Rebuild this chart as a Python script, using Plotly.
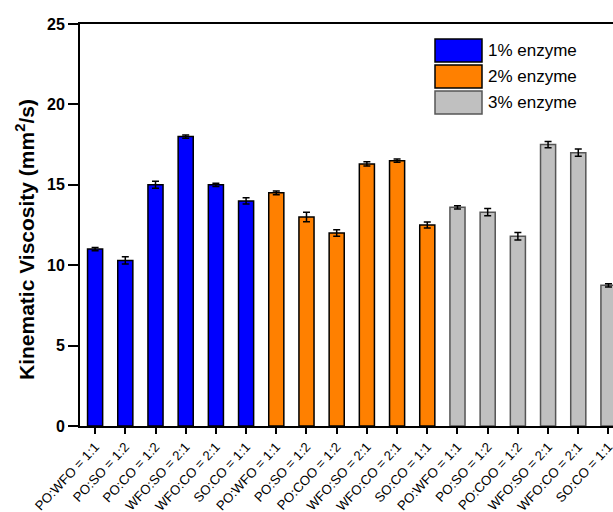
import plotly.graph_objects as go

series_names = ["1% enzyme", "2% enzyme", "3% enzyme"]
labels_1 = ["PO:WFO = 1:1", "PO:SO = 1:2", "PO:CO = 1:2", "WFO:SO = 2:1", "WFO:CO = 2:1", "SO:CO = 1:1"]
labels_2 = ["PO:WFO = 1:1", "PO:SO = 1:2", "PO:COO = 1:2", "WFO:SO = 2:1", "WFO:CO = 2:1", "SO:CO = 1:1"]
labels_3 = ["PO:WFO = 1:1", "PO:SO = 1:2", "PO:COO = 1:2", "WFO:SO = 2:1", "WFO:CO = 2:1", "SO:CO = 1:1"]

values_1 = [11.0, 10.3, 15.0, 18.0, 15.0, 14.0]
values_2 = [14.5, 13.0, 12.0, 16.3, 16.5, 12.5]
values_3 = [13.6, 13.3, 11.8, 17.5, 17.0, 8.75]

errors_1 = [0.1, 0.22, 0.22, 0.1, 0.1, 0.2]
errors_2 = [0.12, 0.3, 0.2, 0.13, 0.1, 0.19]
errors_3 = [0.1, 0.23, 0.23, 0.2, 0.23, 0.1]

y_ticks = [0, 5, 10, 15, 20, 25]
y_title = "<b>Kinematic Viscosity (mm<sup>2</sup>/s)</b>"

fill_colors = ["#0000FF", "#FF8000", "#C0C0C0"]
line_colors = ["#000000", "#000000", "#555555"]

groups = [(labels_1, values_1, errors_1), (labels_2, values_2, errors_2), (labels_3, values_3, errors_3)]

fig = go.Figure()
all_labels = []
pos = 0
for gi, (labs, vals, errs) in enumerate(groups):
    xs = list(range(pos, pos + len(vals)))
    pos += len(vals)
    all_labels += labs
    fig.add_trace(go.Bar(
        x=xs, y=vals, name=series_names[gi], width=0.5,
        marker=dict(color=fill_colors[gi], line=dict(color=line_colors[gi], width=1.5)),
        error_y=dict(type="data", array=errs, visible=True, color="#000000", thickness=1.5, width=3.5),
        showlegend=False,
    ))

W, H = 613, 512
ML, MR, MT, MB = 80, 0, 24, 86
pw, ph = W - ML - MR, H - MT - MB

def px_x(x):
    return (x - ML) / pw

def px_y(y):
    return 1 - (y - MT) / ph

shapes = []
annotations = []
for i, name in enumerate(series_names):
    top = 39 + i * 26
    shapes.append(dict(type="rect", xref="paper", yref="paper",
                       x0=px_x(435), x1=px_x(482), y0=px_y(top + 23), y1=px_y(top),
                       fillcolor=fill_colors[i], line=dict(color=line_colors[i], width=1.5)))
    annotations.append(dict(xref="paper", yref="paper", x=px_x(486), y=px_y(top + 11.5),
                            text=name, showarrow=False, xanchor="left", yanchor="middle",
                            font=dict(family="Liberation Sans, Arial", size=17, color="#000")))

annotations.append(dict(xref="paper", yref="paper", x=px_x(25), y=px_y(240), text=y_title,
                        textangle=-90, showarrow=False, xanchor="center", yanchor="middle",
                        font=dict(family="Liberation Sans, Arial", size=21, color="#000")))

fig.update_layout(
    width=W, height=H,
    margin=dict(l=ML, r=MR, t=MT, b=MB),
    plot_bgcolor="white", paper_bgcolor="white",
    barmode="overlay",
    shapes=shapes, annotations=annotations,
    font=dict(family="Liberation Sans, Arial", color="#000"),
    xaxis=dict(
        range=[-0.5, 17.15], tickmode="array", tickvals=list(range(len(all_labels))), ticktext=all_labels,
        tickangle=-47, ticks="outside", ticklen=6, tickwidth=2, tickcolor="#000",
        showline=True, linecolor="#000", linewidth=2, mirror=True, showgrid=False, zeroline=False,
        automargin=False, ticklabeloverflow="allow",
        tickfont=dict(size=13.2, family="Liberation Sans, Arial", color="#000"),
    ),
    yaxis=dict(
        range=[0, 25], tickmode="array", tickvals=y_ticks, ticks="outside", ticklen=10, tickwidth=2, tickcolor="#000",
        showline=True, linecolor="#000", linewidth=2, showgrid=False, zeroline=False,
        automargin=False,
        tickfont=dict(size=16, family="Liberation Sans, Arial", color="#000", weight="bold"),
    ),
)

fig.write_html("out.html", config={"displayModeBar": False},
               post_script="document.body.style.margin='0';document.body.style.overflow='hidden';")
